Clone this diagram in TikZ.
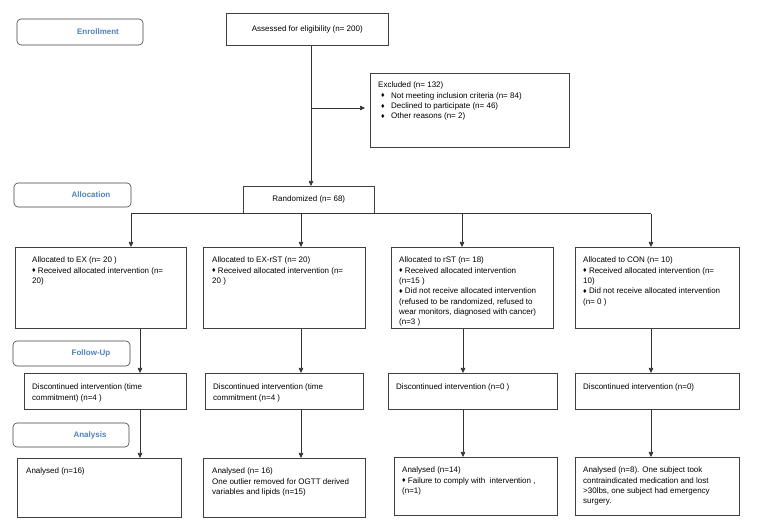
\documentclass[tikz,border=0pt]{standalone}
\usepackage{fontspec}
\setmainfont{Liberation Sans}
\usepackage{xcolor}
\usetikzlibrary{arrows.meta,positioning}
\definecolor{stageblue}{HTML}{4F81BD}
\newcommand{\bul}{{\fontsize{7}{7}\selectfont\raisebox{0.3pt}{♦}}}
\tikzset{
  box/.style={draw=black!75, line width=0.6pt, anchor=north west, inner sep=0pt, font=\fontsize{8}{10}\selectfont},
  stage/.style={draw=black!75, line width=0.6pt, rounded corners=4pt, inner sep=0pt, font=\fontsize{8}{10}\selectfont\bfseries, text=stageblue},
  txt/.style={anchor=north west, align=left, inner sep=0pt, font=\fontsize{8}{10.3}\selectfont},
  arr/.style={-{Triangle[length=5pt,width=4.5pt]}, draw=black!80, line width=0.6pt},
  line/.style={draw=black!80, line width=0.6pt},
}
\begin{document}
\begin{tikzpicture}[x=1pt, y=-1pt]
  \useasboundingbox (0,0) rectangle (758,526);

  \node[stage, minimum width=126pt, minimum height=26pt] at (80,32) (enrollment) {\hspace*{36pt}Enrollment};
  \node[stage, minimum width=117pt, minimum height=24pt] at (72.5,195) (allocation) {\hspace*{37pt}Allocation};
  \node[stage, minimum width=117pt, minimum height=25pt] at (71.5,353.5) (followup) {\hspace*{39pt}Follow-Up};
  \node[stage, minimum width=116pt, minimum height=24pt] at (71,435) (analysis) {\hspace*{38pt}Analysis};

  \node[box, minimum width=162pt, minimum height=32pt] at (226,13) (assessed) {Assessed for eligibility (n= 200)};
  \node[box, minimum width=199pt, minimum height=74pt] at (370,73) (excluded) {};
  \node[txt] at ([shift={(8pt,-9pt)}]excluded.north west) (excluded_txt) {Excluded (n= 132)\\
    \hspace*{3pt}\makebox[10pt][l]{\bul}Not meeting inclusion criteria (n= 84)\\
    \hspace*{3pt}\makebox[10pt][l]{\bul}Declined to participate (n= 46)\\
    \hspace*{3pt}\makebox[10pt][l]{\bul}Other reasons (n= 2)};
  \node[box, minimum width=131pt, minimum height=27pt] at (243,186) (rand) {Randomized (n= 68)};

  \node[box, minimum width=171pt, minimum height=81pt] at (15,247) (alloc_ex) {};
  \node[txt] at ([shift={(17pt,-10pt)}]alloc_ex.north west) (alloc_ex_txt) {Allocated to EX (n= 20 )\\
    \bul{} Received allocated intervention (n=\\ 20)};
  \node[box, minimum width=162pt, minimum height=81pt] at (203,247) (alloc_exrst) {};
  \node[txt] at ([shift={(9pt,-10pt)}]alloc_exrst.north west) (alloc_exrst_txt) {Allocated to EX-rST (n= 20)\\
    \bul{} Received allocated intervention (n=\\ 20 )};
  \node[box, minimum width=162pt, minimum height=81pt] at (391,247) (alloc_rst) {};
  \node[txt] at ([shift={(8pt,-10pt)}]alloc_rst.north west) (alloc_rst_txt) {Allocated to rST (n= 18)\\
    \bul{} Received allocated intervention\\ (n=15 )\\
    \bul{} Did not receive allocated intervention\\
    (refused to be randomized, refused to\\ wear monitors, diagnosed with cancer)\\ (n=3 )};
  \node[box, minimum width=164pt, minimum height=81pt] at (575,247) (alloc_con) {};
  \node[txt] at ([shift={(8pt,-10pt)}]alloc_con.north west) (alloc_con_txt) {Allocated to CON (n= 10)\\
    \bul{} Received allocated intervention (n=\\ 10)\\
    \bul{} Did not receive allocated intervention\\ (n= 0 )};

  \node[box, minimum width=162pt, minimum height=36pt] at (24,373) (disc_ex) {};
  \node[txt] at ([shift={(8pt,-11pt)}]disc_ex.north west) (disc_ex_txt) {Discontinued intervention (time\\ commitment) (n=4 )};
  \node[box, minimum width=158pt, minimum height=36pt] at (205,373) (disc_exrst) {};
  \node[txt] at ([shift={(8pt,-11pt)}]disc_exrst.north west) (disc_exrst_txt) {Discontinued intervention (time\\ commitment (n=4 )};
  \node[box, minimum width=169pt, minimum height=36pt] at (388,373) (disc_rst) {};
  \node[txt] at ([shift={(8pt,-11pt)}]disc_rst.north west) (disc_rst_txt) {Discontinued intervention (n=0 )};
  \node[box, minimum width=164pt, minimum height=36pt] at (575,373) (disc_con) {};
  \node[txt] at ([shift={(8pt,-11pt)}]disc_con.north west) (disc_con_txt) {Discontinued intervention (n=0)};

  \node[box, minimum width=164pt, minimum height=59pt] at (17,458) (ana_ex) {};
  \node[txt] at ([shift={(9pt,-10pt)}]ana_ex.north west) (ana_ex_txt) {Analysed (n=16)};
  \node[box, minimum width=162pt, minimum height=59pt] at (203,458) (ana_exrst) {};
  \node[txt] at ([shift={(9pt,-10pt)}]ana_exrst.north west) (ana_exrst_txt) {Analysed (n= 16)\\
    One outlier removed for OGTT derived\\ variables and lipids (n=15)};
  \node[box, minimum width=163pt, minimum height=58pt] at (394,457) (ana_rst) {};
  \node[txt] at ([shift={(8pt,-10pt)}]ana_rst.north west) (ana_rst_txt) {Analysed (n=14)\\
    \bul{} Failure to comply with \ intervention ,\\ (n=1)};
  \node[box, minimum width=164pt, minimum height=58pt] at (575,457) (ana_con) {};
  \node[txt] at ([shift={(8pt,-10pt)}]ana_con.north west) (ana_con_txt) {Analysed (n=8). One subject took\\
    contraindicated medication and lost\\ >30lbs, one subject had emergency\\ surgery.};

  \coordinate (trunk) at (311,0);
  \draw[arr] (trunk |- assessed.south) -- (trunk |- rand.north);
  \draw[arr, shorten >=5pt] (trunk |- 0,108) -- (excluded.west |- 0,108);

  \coordinate (top_ex) at (131,0);
  \coordinate (top_exrst) at (301,0);
  \coordinate (top_rst) at (462,0);
  \coordinate (top_con) at (651,0);
  \draw[line] (top_ex |- rand.south) -- (top_con |- rand.south);
  \draw[arr] (top_ex |- rand.south) -- (top_ex |- alloc_ex.north);
  \draw[arr] (top_exrst |- rand.south) -- (top_exrst |- alloc_exrst.north);
  \draw[arr] (top_rst |- rand.south) -- (top_rst |- alloc_rst.north);
  \draw[arr] (top_con |- rand.south) -- (top_con |- alloc_con.north);

  \coordinate (low_ex) at (140,0);
  \coordinate (low_exrst) at (301,0);
  \coordinate (low_rst) at (463,0);
  \coordinate (low_con) at (651,0);
  \draw[arr] (low_ex |- alloc_ex.south) -- (low_ex |- disc_ex.north);
  \draw[arr] (low_exrst |- alloc_exrst.south) -- (low_exrst |- disc_exrst.north);
  \draw[arr] (low_rst |- alloc_rst.south) -- (low_rst |- disc_rst.north);
  \draw[arr] (low_con |- alloc_con.south) -- (low_con |- disc_con.north);
  \draw[arr] (low_ex |- disc_ex.south) -- (low_ex |- ana_ex.north);
  \draw[arr] (low_exrst |- disc_exrst.south) -- (low_exrst |- ana_exrst.north);
  \draw[arr] (low_rst |- disc_rst.south) -- (low_rst |- ana_rst.north);
  \draw[arr] (low_con |- disc_con.south) -- (low_con |- ana_con.north);
\end{tikzpicture}
\end{document}
